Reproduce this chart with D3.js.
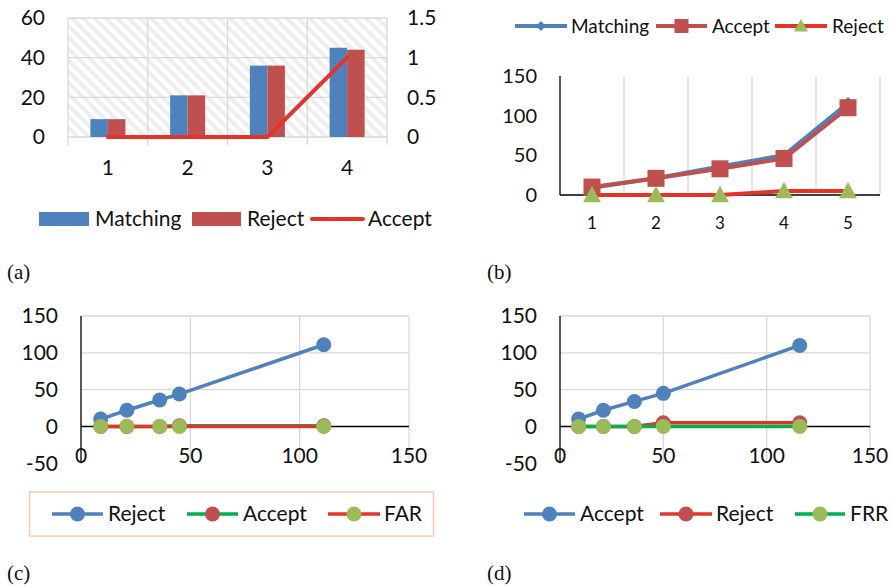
<!DOCTYPE html>
<html><head><meta charset="utf-8">
<script src="https://cdn.jsdelivr.net/npm/d3@7"></script>
<style>
html,body{margin:0;padding:0;background:#fff;}
svg text{font-family:Lato,"Open Sans",sans-serif;fill:#111;}
svg text.cap{font-family:"Liberation Serif","DejaVu Serif",serif;}
</style></head>
<body>
<svg id="c" width="891" height="587"></svg>
<script>
// ---------- data ----------
// panel (a)
const aCats = [1, 2, 3, 4];
const aMatching = [9, 21, 36, 45];
const aReject = [9, 21, 36, 44];
const aAccept = [0, 0, 0, 1];
const aLeftTicks = [0, 20, 40, 60];
const aRightTicks = [0, 0.5, 1, 1.5];
// panel (b)
const bCats = [1, 2, 3, 4, 5];
const bMatching = [9, 21, 36, 50, 116];
const bAccept = [10, 21, 33, 46, 110];
const bReject = [0, 0, 0, 5, 5];
const bTicks = [0, 50, 100, 150];
// panel (c)
const cX = [9, 21, 36, 45, 111];
const cReject = [10, 22, 36, 44, 111];
const cAccept = [0, 0, 0, 1, 1];
const cFAR = [0, 0, 0, 0, 0];
// panel (d)
const dX = [9, 21, 36, 50, 116];
const dAccept = [10, 22, 34, 45, 110];
const dReject = [0, 0, 0, 5, 5];
const dFRR = [0, 0, 0, 0, 0];
const xyXTicks = [0, 50, 100, 150];
const xyYTicks = [-50, 0, 50, 100, 150];

const BLUE = "#4f81bd", RED = "#c0504d", LRED = "#e3342a", GREEN = "#9bbb59", LGREEN = "#00b050", GRID = "#d9d9d9";

const svg = d3.select("#c");
const defs = svg.append("defs");
const pat = defs.append("pattern").attr("id", "hatch").attr("patternUnits", "userSpaceOnUse")
  .attr("width", 8).attr("height", 8).attr("patternTransform", "rotate(45)");
pat.append("rect").attr("width", 8).attr("height", 8).attr("fill", "#ffffff");
pat.append("rect").attr("width", 8).attr("height", 4).attr("fill", "#eeeeee");

// ================= Panel (a) =================
{
  const g = svg.append("g");
  const x = d3.scaleBand().domain(aCats).range([68, 387]);
  const yL = d3.scaleLinear().domain([0, 60]).range([137, 18]);
  const yR = d3.scaleLinear().domain([0, 1.5]).range([137, 18]);
  g.append("rect").attr("x", 68).attr("y", 18).attr("width", 319).attr("height", 119).attr("fill", "url(#hatch)");
  g.selectAll(".hg").data(aLeftTicks).join("line")
    .attr("x1", 68).attr("x2", 387).attr("y1", d => yL(d)).attr("y2", d => yL(d))
    .attr("stroke", GRID).attr("stroke-width", 1.3);
  const bounds = aCats.map(c => x(c)).concat([x.range()[1]]);
  g.selectAll(".vg").data(bounds).join("line")
    .attr("x1", d => d).attr("x2", d => d).attr("y1", 18).attr("y2", 137)
    .attr("stroke", GRID).attr("stroke-width", 1.3);
  // ticks under axis
  g.selectAll(".tk").data(bounds).join("line")
    .attr("x1", d => d).attr("x2", d => d).attr("y1", 137).attr("y2", 145)
    .attr("stroke", GRID).attr("stroke-width", 1.3);
  const inner = d3.scaleBand().domain(["m", "r"]).range([-17.5, 17.5]);
  const cx = c => x(c) + x.bandwidth() / 2;
  g.selectAll(".bm").data(aCats).join("rect")
    .attr("x", (c) => cx(c) + inner("m")).attr("width", inner.bandwidth())
    .attr("y", (c, i) => yL(aMatching[i])).attr("height", (c, i) => yL(0) - yL(aMatching[i]))
    .attr("fill", BLUE);
  g.selectAll(".br").data(aCats).join("rect")
    .attr("x", (c) => cx(c) + inner("r")).attr("width", inner.bandwidth())
    .attr("y", (c, i) => yL(aReject[i])).attr("height", (c, i) => yL(0) - yL(aReject[i]))
    .attr("fill", RED);
  g.append("path").datum(aCats)
    .attr("d", d3.line().x(c => cx(c)).y((c, i) => yR(aAccept[i])))
    .attr("fill", "none").attr("stroke", LRED).attr("stroke-width", 4).attr("stroke-linecap", "round");
  g.selectAll(".lt").data(aLeftTicks).join("text")
    .attr("x", 45).attr("y", d => yL(d)).attr("dy", "0.35em").attr("text-anchor", "end")
    .attr("font-size", 21).text(d => d);
  g.selectAll(".rt").data(aRightTicks).join("text")
    .attr("x", 407).attr("y", d => yR(d)).attr("dy", "0.35em")
    .attr("font-size", 21).text(d => d);
  g.selectAll(".xt").data(aCats).join("text")
    .attr("x", c => cx(c)).attr("y", 168).attr("dy", "0.35em").attr("text-anchor", "middle")
    .attr("font-size", 21).text(d => d);
  // legend
  const ly = 219;
  g.append("rect").attr("x", 39).attr("y", ly - 7).attr("width", 50).attr("height", 14).attr("fill", BLUE);
  g.append("text").attr("x", 95).attr("y", ly).attr("dy", "0.35em").attr("font-size", 21).text("Matching");
  g.append("rect").attr("x", 192).attr("y", ly - 7).attr("width", 49).attr("height", 14).attr("fill", RED);
  g.append("text").attr("x", 247).attr("y", ly).attr("dy", "0.35em").attr("font-size", 21).text("Reject");
  g.append("line").attr("x1", 312).attr("x2", 363).attr("y1", ly).attr("y2", ly).attr("stroke", LRED).attr("stroke-width", 4).attr("stroke-linecap", "round");
  g.append("text").attr("x", 368).attr("y", ly).attr("dy", "0.35em").attr("font-size", 21).text("Accept");
  svg.append("text").attr("class", "cap").attr("x", 7).attr("y", 272).attr("dy", "0.35em").attr("font-size", 21).text("(a)");
}

// ---------- marker helpers ----------
function marker(g, type, x, y, color, size) {
  if (type === "circle") {
    g.append("circle").attr("cx", x).attr("cy", y).attr("r", size).attr("fill", color);
  } else if (type === "square") {
    g.append("rect").attr("x", x - size).attr("y", y - size).attr("width", size * 2).attr("height", size * 2).attr("fill", color);
  } else if (type === "diamond") {
    g.append("path").attr("d", `M${x},${y - size}L${x + size},${y}L${x},${y + size}L${x - size},${y}Z`).attr("fill", color);
  } else if (type === "triangle") {
    g.append("path").attr("d", `M${x},${y - size}L${x + size},${y + size * 0.8}L${x - size},${y + size * 0.8}Z`).attr("fill", color);
  }
}

// ================= Panel (b) =================
{
  const g = svg.append("g");
  const x = d3.scaleBand().domain(bCats).range([560, 880]);
  const y = d3.scaleLinear().domain([0, 150]).range([195, 76]);
  const cx = c => x(c) + x.bandwidth() / 2;
  const bounds = bCats.slice(1).map(c => x(c)).concat([x.range()[1]]);
  g.selectAll(".vg").data(bounds).join("line")
    .attr("x1", d => d).attr("x2", d => d).attr("y1", 76).attr("y2", 195)
    .attr("stroke", GRID).attr("stroke-width", 1.3);
  g.append("line").attr("x1", 560).attr("x2", 560).attr("y1", 76).attr("y2", 195).attr("stroke", "#000").attr("stroke-width", 1.3);
  g.append("line").attr("x1", 560).attr("x2", 880).attr("y1", 195).attr("y2", 195).attr("stroke", "#000").attr("stroke-width", 1.3);
  g.selectAll(".yt").data(bTicks).join("text")
    .attr("x", 537).attr("y", d => y(d)).attr("dy", "0.35em").attr("text-anchor", "end")
    .attr("font-size", 20).text(d => d);
  g.selectAll(".xt").data(bCats).join("text")
    .attr("x", c => cx(c)).attr("y", 223).attr("dy", "0.35em").attr("text-anchor", "middle")
    .attr("font-size", 17).text(d => d);
  const series = [
    { vals: bMatching, line: BLUE, mk: "diamond", mc: BLUE, ms: 6 },
    { vals: bAccept, line: RED, mk: "square", mc: RED, ms: 8.5 },
    { vals: bReject, line: LRED, mk: "triangle", mc: GREEN, ms: 9 }
  ];
  series.forEach(s => {
    g.append("path").datum(bCats)
      .attr("d", d3.line().x(c => cx(c)).y((c, i) => y(s.vals[i])))
      .attr("fill", "none").attr("stroke", s.line).attr("stroke-width", 4).attr("stroke-linejoin", "round");
    bCats.forEach((c, i) => marker(g, s.mk, cx(c), y(s.vals[i]), s.mc, s.ms));
  });
  // legend
  const ly = 26;
  const items = [
    { x0: 515, x1: 567, tx: 571, label: "Matching", line: BLUE, mk: "diamond", mc: BLUE, ms: 5 },
    { x0: 656, x1: 707, tx: 712, label: "Accept", line: RED, mk: "square", mc: RED, ms: 7 },
    { x0: 775, x1: 827, tx: 832, label: "Reject", line: LRED, mk: "triangle", mc: GREEN, ms: 7 }
  ];
  items.forEach(it => {
    g.append("line").attr("x1", it.x0).attr("x2", it.x1).attr("y1", ly).attr("y2", ly).attr("stroke", it.line).attr("stroke-width", 4);
    marker(g, it.mk, (it.x0 + it.x1) / 2, ly, it.mc, it.ms);
    g.append("text").attr("x", it.tx).attr("y", ly).attr("dy", "0.35em").attr("font-size", 19).text(it.label);
  });
  svg.append("text").attr("class", "cap").attr("x", 487).attr("y", 272).attr("dy", "0.35em").attr("font-size", 21).text("(b)");
}

// ================= Panels (c), (d) =================
function xyPanel(opts) {
  const g = svg.append("g");
  const x = d3.scaleLinear().domain([0, 150]).range([opts.x0, opts.x1]);
  const y = d3.scaleLinear().domain([-50, 150]).range([463.3, 316]);
  g.selectAll(".hg").data([50, 100, 150]).join("line")
    .attr("x1", opts.x0).attr("x2", opts.x1).attr("y1", d => y(d)).attr("y2", d => y(d))
    .attr("stroke", GRID).attr("stroke-width", 1.3);
  g.selectAll(".vg").data([50, 100, 150]).join("line")
    .attr("x1", d => x(d)).attr("x2", d => x(d)).attr("y1", 316).attr("y2", 463.3)
    .attr("stroke", GRID).attr("stroke-width", 1.3);
  g.append("line").attr("x1", opts.x0).attr("x2", opts.x0).attr("y1", 316).attr("y2", 463.3).attr("stroke", "#000").attr("stroke-width", 1.3);
  g.append("line").attr("x1", opts.x0).attr("x2", opts.x1).attr("y1", y(0)).attr("y2", y(0)).attr("stroke", "#000").attr("stroke-width", 1.3);
  g.selectAll(".yt").data(xyYTicks).join("text")
    .attr("x", opts.yLabX).attr("y", d => y(d)).attr("dy", "0.35em").attr("text-anchor", "end")
    .attr("font-size", 21).text(d => d);
  g.selectAll(".xt").data(xyXTicks).join("text")
    .attr("x", d => x(d)).attr("y", 456).attr("dy", "0.35em").attr("text-anchor", "middle")
    .attr("font-size", 21).text(d => d);
  opts.series.forEach(s => {
    g.append("path").datum(opts.xs)
      .attr("d", d3.line().x(v => x(v)).y((v, i) => y(s.vals[i])))
      .attr("fill", "none").attr("stroke", s.line).attr("stroke-width", 3.5).attr("stroke-linejoin", "round");
    opts.xs.forEach((v, i) => marker(g, "circle", x(v), y(s.vals[i]), s.mc, 7.5));
  });
  const ly = 514;
  if (opts.box) {
    g.append("rect").attr("x", 29.5).attr("y", 492).attr("width", 404).attr("height", 44)
      .attr("fill", "none").attr("stroke", "#f8cbad").attr("stroke-width", 1.5);
  }
  opts.series.forEach(s => {
    g.append("line").attr("x1", s.lx0).attr("x2", s.lx1).attr("y1", ly).attr("y2", ly).attr("stroke", s.line).attr("stroke-width", 3.5);
    marker(g, "circle", (s.lx0 + s.lx1) / 2, ly, s.mc, 7.5);
    g.append("text").attr("x", s.tx).attr("y", ly).attr("dy", "0.35em").attr("font-size", 21).text(s.label);
  });
  svg.append("text").attr("class", "cap").attr("x", opts.capX).attr("y", 573).attr("dy", "0.35em").attr("font-size", 21).text(opts.cap);
}

xyPanel({
  x0: 81, x1: 409, yLabX: 58, xs: cX, box: true, cap: "(c)", capX: 7,
  series: [
    { vals: cReject, line: BLUE, mc: BLUE, label: "Reject", lx0: 52, lx1: 103, tx: 108 },
    { vals: cAccept, line: LGREEN, mc: RED, label: "Accept", lx0: 187, lx1: 238, tx: 243 },
    { vals: cFAR, line: LRED, mc: GREEN, label: "FAR", lx0: 328, lx1: 380, tx: 384 }
  ]
});
xyPanel({
  x0: 560, x1: 870, yLabX: 537, xs: dX, box: false, cap: "(d)", capX: 487,
  series: [
    { vals: dAccept, line: BLUE, mc: BLUE, label: "Accept", lx0: 524, lx1: 575, tx: 580 },
    { vals: dReject, line: LRED, mc: RED, label: "Reject", lx0: 660, lx1: 712, tx: 716 },
    { vals: dFRR, line: LGREEN, mc: GREEN, label: "FRR", lx0: 795, lx1: 845, tx: 850 }
  ]
});
</script>
</body></html>
